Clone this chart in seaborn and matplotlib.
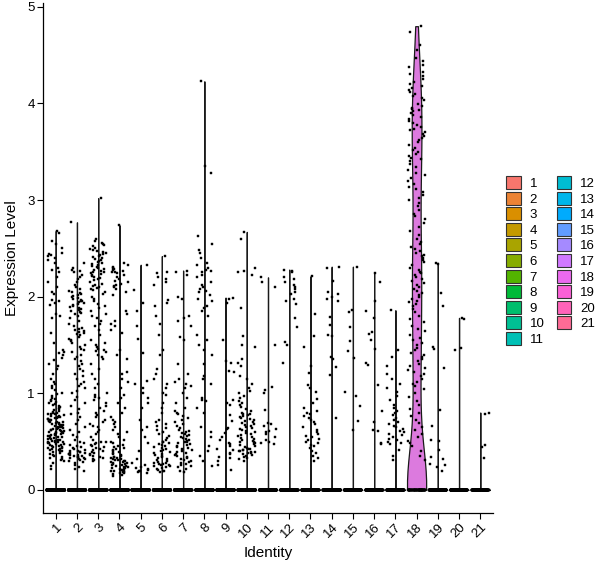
import numpy as np
import pandas as pd
import matplotlib
matplotlib.use("Agg")
import matplotlib.pyplot as plt
import seaborn as sns
from matplotlib.patches import Patch

# ---------------- data ----------------
identities = [str(i) for i in range(1, 22)]

c1 = [2.68, 2.66, 2.58, 2.55, 2.50, 2.45, 2.44, 2.43, 2.42, 2.40, 2.38, 2.35, 2.30, 2.28, 2.25, 2.20, 2.15, 2.10,
      2.05, 2.03, 1.97, 1.95, 1.93, 1.91, 1.82, 1.80, 1.78, 1.62, 1.52, 1.45, 1.43, 1.42, 1.40, 1.36, 1.34, 1.30,
      1.28, 1.25, 1.20, 1.15, 1.12, 1.10, 1.08, 1.05, 1.03, 1.00, 0.99, 0.97, 0.95, 0.94, 0.93, 0.92, 0.91, 0.90,
      0.89, 0.88, 0.87, 0.86, 0.85, 0.84, 0.83, 0.82, 0.81, 0.80, 0.80, 0.79, 0.78, 0.78, 0.77, 0.76, 0.76, 0.75,
      0.75, 0.74, 0.74, 0.73, 0.73, 0.72, 0.72, 0.71, 0.71, 0.70, 0.70, 0.70, 0.69, 0.69, 0.68, 0.68, 0.67, 0.67,
      0.66, 0.66, 0.65, 0.65, 0.65, 0.64, 0.64, 0.63, 0.63, 0.62, 0.62, 0.62, 0.61, 0.61, 0.60, 0.60, 0.60, 0.59,
      0.59, 0.58, 0.58, 0.57, 0.57, 0.56, 0.56, 0.55, 0.55, 0.54, 0.54, 0.53, 0.53, 0.52, 0.52, 0.51, 0.51, 0.50,
      0.50, 0.49, 0.49, 0.48, 0.48, 0.47, 0.47, 0.46, 0.46, 0.45, 0.45, 0.44, 0.44, 0.43, 0.43, 0.42, 0.42, 0.41,
      0.41, 0.40, 0.40, 0.39, 0.38, 0.37, 0.36, 0.35, 0.34, 0.33, 0.32, 0.31, 0.30, 0.28, 0.25, 0.22]
c2 = [2.77, 2.35, 2.30, 2.28, 2.27, 2.25, 2.22, 2.20, 2.18, 2.15, 2.12, 2.10, 2.08, 2.06, 2.05, 2.04, 2.03, 2.02,
      2.01, 2.00, 1.99, 1.98, 1.97, 1.96, 1.95, 1.94, 1.93, 1.92, 1.91, 1.90, 1.89, 1.88, 1.87, 1.86, 1.85, 1.84,
      1.83, 1.82, 1.80, 1.78, 1.75, 1.72, 1.70, 1.68, 1.66, 1.65, 1.64, 1.63, 1.62, 1.61, 1.60, 1.58, 1.56, 1.55,
      1.54, 1.52, 1.50, 1.48, 1.46, 1.45, 1.43, 1.40, 1.38, 1.35, 1.33, 1.30, 1.28, 1.25, 1.23, 1.20, 1.18, 1.15,
      1.12, 1.10, 1.08, 1.05, 1.02, 1.00, 0.96, 0.93, 0.90, 0.87, 0.84, 0.80, 0.78, 0.75, 0.72, 0.68, 0.65, 0.62,
      0.60, 0.57, 0.55, 0.52, 0.50, 0.48, 0.46, 0.45, 0.44, 0.43, 0.42, 0.41, 0.40, 0.40, 0.39, 0.39, 0.38, 0.38,
      0.37, 0.37, 0.36, 0.36, 0.35, 0.35, 0.34, 0.34, 0.33, 0.33, 0.32, 0.32, 0.31, 0.30, 0.29, 0.28, 0.26, 0.24,
      0.22, 0.20]
c3 = [3.02, 2.60, 2.58, 2.56, 2.55, 2.53, 2.52, 2.50, 2.49, 2.48, 2.47, 2.46, 2.45, 2.44, 2.43, 2.42, 2.41, 2.40,
      2.39, 2.38, 2.37, 2.36, 2.35, 2.34, 2.33, 2.32, 2.31, 2.30, 2.29, 2.28, 2.27, 2.26, 2.25, 2.24, 2.23, 2.22,
      2.21, 2.20, 2.19, 2.18, 2.17, 2.15, 2.13, 2.12, 2.11, 2.10, 2.09, 2.08, 2.07, 2.05, 2.03, 2.00, 1.98, 1.95,
      1.92, 1.90, 1.88, 1.85, 1.82, 1.80, 1.78, 1.75, 1.72, 1.70, 1.65, 1.60, 1.55, 1.52, 1.50, 1.48, 1.46, 1.45,
      1.44, 1.43, 1.40, 1.38, 1.35, 1.30, 1.25, 1.20, 1.15, 1.10, 1.05, 1.00, 0.98, 0.96, 0.95, 0.93, 0.90, 0.87,
      0.85, 0.82, 0.80, 0.77, 0.75, 0.72, 0.70, 0.68, 0.66, 0.65, 0.62, 0.60, 0.58, 0.55, 0.52, 0.50, 0.49, 0.48,
      0.47, 0.46, 0.45, 0.44, 0.43, 0.42, 0.41, 0.40, 0.39, 0.38, 0.37, 0.36, 0.35, 0.34, 0.33, 0.32, 0.31, 0.30]
c4 = [2.74, 2.35, 2.33, 2.31, 2.30, 2.29, 2.28, 2.27, 2.26, 2.25, 2.24, 2.22, 2.20, 2.18, 2.16, 2.15, 2.13, 2.12,
      2.11, 2.10, 2.08, 2.05, 2.02, 1.85, 1.82, 1.75, 1.72, 1.70, 1.65, 1.62, 1.45, 1.40, 1.35, 1.22, 1.20, 1.15,
      1.12, 1.05, 0.98, 0.95, 0.90, 0.85, 0.80, 0.75, 0.72, 0.70, 0.68, 0.65, 0.62, 0.60, 0.58, 0.55, 0.52, 0.50,
      0.48, 0.46, 0.45, 0.44, 0.43, 0.42, 0.41, 0.40, 0.39, 0.38, 0.37, 0.36, 0.35, 0.34, 0.34, 0.33, 0.33, 0.32,
      0.32, 0.31, 0.31, 0.30, 0.30, 0.29, 0.29, 0.28, 0.28, 0.27, 0.27, 0.26, 0.26, 0.25, 0.25, 0.24, 0.24, 0.23,
      0.23, 0.22, 0.22, 0.21, 0.21, 0.20, 0.20, 0.19, 0.19, 0.18, 0.18, 0.17, 0.17, 0.16, 0.15, 0.14]
c5 = [2.33, 2.07, 1.93, 1.85, 1.70, 1.56, 1.42, 1.13, 1.10, 1.05, 1.00, 0.95, 0.90, 0.85, 0.72, 0.65, 0.62, 0.55,
      0.48, 0.40, 0.32, 0.28, 0.26, 0.24, 0.23, 0.22, 0.21, 0.20, 0.19, 0.18, 0.17]
c6 = [2.42, 2.26, 2.24, 2.20, 2.18, 2.15, 2.12, 1.97, 1.93, 1.90, 1.80, 1.72, 1.60, 1.45, 1.40, 1.25, 1.20, 1.15,
      1.10, 1.05, 1.00, 0.98, 0.90, 0.85, 0.80, 0.72, 0.70, 0.68, 0.66, 0.64, 0.62, 0.60, 0.58, 0.56, 0.54, 0.52,
      0.50, 0.49, 0.48, 0.47, 0.46, 0.45, 0.44, 0.43, 0.42, 0.41, 0.40, 0.39, 0.38, 0.37, 0.36, 0.35, 0.34, 0.33,
      0.32, 0.31, 0.30, 0.29, 0.28, 0.28, 0.27, 0.27, 0.26, 0.26, 0.25, 0.25, 0.24, 0.23, 0.22, 0.21, 0.20, 0.19,
      0.18]
c7 = [2.27, 2.25, 2.22, 2.00, 1.98, 1.80, 1.78, 1.75, 1.70, 1.58, 1.55, 1.30, 1.20, 1.15, 1.12, 1.10, 1.08, 1.05,
      1.00, 0.95, 0.90, 0.85, 0.82, 0.80, 0.78, 0.76, 0.74, 0.72, 0.70, 0.68, 0.66, 0.64, 0.62, 0.61, 0.60, 0.59,
      0.58, 0.57, 0.56, 0.55, 0.54, 0.53, 0.52, 0.51, 0.50, 0.49, 0.48, 0.47, 0.46, 0.45, 0.44, 0.43, 0.42, 0.41,
      0.40, 0.39, 0.38, 0.37, 0.36, 0.35, 0.34, 0.33, 0.32, 0.31, 0.30, 0.29, 0.28, 0.27, 0.26, 0.25, 0.24, 0.22,
      0.20, 0.18]
c8 = [4.23, 3.35, 3.28, 2.63, 2.55, 2.48, 2.45, 2.40, 2.35, 2.33, 2.30, 2.28, 2.27, 2.25, 2.22, 2.20, 2.15, 2.12,
      2.10, 2.08, 2.06, 2.05, 2.02, 1.98, 1.95, 1.90, 1.88, 1.85, 1.80, 1.60, 1.55, 1.50, 1.45, 1.40, 1.30, 1.18,
      1.15, 1.10, 0.95, 0.93, 0.92, 0.85, 0.80, 0.65, 0.60, 0.55, 0.45, 0.40, 0.35, 0.30, 0.25]
c9 = [1.99, 1.98, 1.93, 1.55, 1.33, 1.31, 1.23, 1.22, 0.93, 0.90, 0.88, 0.77, 0.71, 0.64, 0.63, 0.59, 0.55, 0.52,
      0.48, 0.47, 0.45, 0.42, 0.41, 0.38, 0.37, 0.34, 0.33, 0.30, 0.26, 0.21]
c10 = [2.67, 2.60, 2.30, 2.27, 2.25, 2.22, 1.88, 1.59, 1.50, 1.48, 1.35, 1.31, 1.28, 1.18, 1.15, 1.10, 1.05, 1.02,
       1.00, 0.97, 0.95, 0.92, 0.90, 0.88, 0.86, 0.84, 0.82, 0.80, 0.79, 0.78, 0.77, 0.76, 0.75, 0.74, 0.73, 0.72,
       0.71, 0.70, 0.69, 0.68, 0.67, 0.66, 0.65, 0.64, 0.63, 0.62, 0.61, 0.60, 0.59, 0.58, 0.57, 0.56, 0.55, 0.54,
       0.53, 0.52, 0.51, 0.50, 0.49, 0.48, 0.47, 0.46, 0.45, 0.44, 0.43, 0.42, 0.42, 0.41, 0.41, 0.40, 0.40, 0.39,
       0.39, 0.38, 0.38, 0.37, 0.36, 0.35, 0.34, 0.33, 0.32, 0.30]
c11 = [2.20, 2.15, 2.10, 1.50, 1.06, 1.03, 1.00, 0.83, 0.69, 0.68, 0.66, 0.63, 0.61, 0.60, 0.58, 0.55, 0.52, 0.50,
       0.48, 0.47]
c12 = [2.28, 2.27, 2.25, 2.20, 2.18, 2.15, 2.12, 2.10, 2.08, 2.05, 2.03, 1.98, 1.95, 1.92, 1.78, 1.69, 1.53, 1.50,
       1.31]
c13 = [2.21, 1.82, 1.59, 1.48, 1.28, 1.21, 1.09, 1.05, 1.01, 0.94, 0.90, 0.85, 0.82, 0.80, 0.78, 0.76, 0.74, 0.72,
       0.70, 0.68, 0.65, 0.62, 0.60, 0.58, 0.56, 0.55, 0.53, 0.52, 0.50, 0.48, 0.46, 0.45, 0.43, 0.40, 0.38, 0.35,
       0.33, 0.30]
c14 = [2.31, 2.30, 2.16, 2.05, 2.03, 2.00, 1.98, 1.96, 1.79, 1.71, 1.60, 1.59, 1.38, 1.35, 1.27, 1.19, 0.74]
c15 = [2.31, 1.86, 1.84, 1.69, 1.54, 1.44, 1.36, 1.01, 0.97, 0.87, 0.71, 0.62]
c16 = [2.24, 2.15, 1.95, 1.85, 1.78, 1.63, 1.61, 1.55, 1.46, 1.31, 1.29, 1.09, 0.82, 0.70, 0.62, 0.61, 0.48, 0.47]
c17 = [1.86, 1.45, 1.38, 1.28, 1.20, 1.15, 1.10, 1.05, 1.01, 0.97, 0.93, 0.88, 0.85, 0.82, 0.80, 0.77, 0.74, 0.72,
       0.70, 0.68, 0.66, 0.65, 0.63, 0.61, 0.60, 0.58, 0.57, 0.55, 0.53, 0.52, 0.50, 0.48, 0.47, 0.41, 0.35, 0.31]
c18 = [4.80, 4.74, 4.61, 4.55, 4.47, 4.44, 4.40, 4.38, 4.33, 4.31, 4.28, 4.25, 4.22, 4.20, 4.18, 4.16, 4.14,
       4.12, 4.10, 4.08, 4.06, 4.04, 3.99, 3.97, 3.95, 3.94, 3.93, 3.92, 3.90, 3.88, 3.86, 3.84, 3.82, 3.80, 3.78,
       3.76, 3.74, 3.72, 3.70, 3.68, 3.66, 3.64, 3.62, 3.60, 3.57, 3.54, 3.52, 3.50, 3.48, 3.46, 3.44, 3.42,
       3.40, 3.37, 3.34, 3.31, 3.28, 3.26, 3.23, 3.20, 3.17, 3.14, 3.11, 3.08, 3.05, 3.02, 3.00, 2.97, 2.94, 2.90,
       2.86, 2.83, 2.80, 2.76, 2.72, 2.68, 2.64, 2.60, 2.57, 2.54, 2.51, 2.49, 2.47, 2.45, 2.43, 2.42, 2.40, 2.38,
       2.36, 2.33, 2.30, 2.28, 2.26, 2.24, 2.22, 2.20, 2.18, 2.16, 2.14, 2.12, 2.10, 2.08, 2.06, 2.04, 2.02, 2.00,
       1.98, 1.96, 1.94, 1.92, 1.90, 1.87, 1.84, 1.80, 1.77, 1.74, 1.70, 1.67, 1.64, 1.60, 1.57, 1.55, 1.52, 1.50,
       1.47, 1.45, 1.42, 1.40, 1.38, 1.35, 1.33, 1.30, 1.28, 1.26, 1.24, 1.22, 1.20, 1.18, 1.15, 1.12, 1.10, 1.07,
       1.04, 1.00, 0.96, 0.92, 0.88, 0.84, 0.80, 0.76, 0.72, 0.69, 0.65, 0.62, 0.58, 0.55, 0.51, 0.48, 0.45, 0.40,
       0.35, 0.31]
c19 = [2.35, 2.34, 2.04, 1.90, 1.48, 1.46, 1.26, 0.83, 0.66, 0.52, 0.51, 0.41, 0.34, 0.32, 0.27, 0.26, 0.24, 0.19]
c20 = [1.78, 1.77, 1.47, 1.45]
c21 = [0.80, 0.79, 0.46, 0.44, 0.33]

# number of cells with zero expression in each identity
zero_counts = [900, 800, 700, 800, 700, 650, 650, 600, 500, 600, 400, 400, 400, 350, 300, 300, 300,
               80, 300, 200, 150]

nonzero = [c1, c2, c3, c4, c5, c6, c7, c8, c9, c10, c11, c12, c13, c14, c15, c16, c17, c18, c19, c20, c21]

# ---------------- build table ----------------
rows_id, rows_val = [], []
for ident, vals, nz in zip(identities, nonzero, zero_counts):
    rows_id += [ident] * (len(vals) + nz)
    rows_val += list(vals) + [0.0] * nz
df = pd.DataFrame({"Identity": pd.Categorical(rows_id, categories=identities), "Expression": rows_val})


# ggplot2 default hue palette (HCL, c=100, l=65)
def hcl_hex(h, c=100.0, l=65.0):
    hr = np.deg2rad(h)
    u, v = c * np.cos(hr), c * np.sin(hr)
    Xn, Yn, Zn = 95.047, 100.0, 108.883
    Y = Yn * ((l + 16) / 116) ** 3
    un = 4 * Xn / (Xn + 15 * Yn + 3 * Zn)
    vn = 9 * Yn / (Xn + 15 * Yn + 3 * Zn)
    up = u / (13 * l) + un
    vp = v / (13 * l) + vn
    X = Y * 9 * up / (4 * vp)
    Z = Y * (12 - 3 * up - 20 * vp) / (4 * vp)
    X, Y, Z = X / 100, Y / 100, Z / 100
    rgb = np.array([3.2404542 * X - 1.5371385 * Y - 0.4985314 * Z,
                    -0.9692660 * X + 1.8760108 * Y + 0.0415560 * Z,
                    0.0556434 * X - 0.2040259 * Y + 1.0572252 * Z])
    rgb = np.where(rgb <= 0.0031308, 12.92 * rgb, 1.055 * np.abs(rgb) ** (1 / 2.4) - 0.055)
    rgb = np.clip(rgb, 0, 1)
    return "#%02x%02x%02x" % tuple(int(round(x * 255)) for x in rgb)


hues = np.linspace(15, 375, len(identities) + 1)[:-1]
colors = [hcl_hex(h) for h in hues]
palette = dict(zip(identities, colors))

# ---------------- plot ----------------
FONT = "Liberation Sans"
plt.rcParams["font.family"] = [FONT, "DejaVu Sans"]

fig = plt.figure(figsize=(6.0, 5.68), dpi=100)
ax = fig.add_axes([43 / 600, 1 - 513 / 568, 450 / 600, 510 / 568])

others = df[df["Identity"] != "18"]
hi = df[df["Identity"] == "18"]

sns.violinplot(data=others, x="Identity", y="Expression", hue="Identity", order=identities,
               hue_order=identities, palette=palette, density_norm="width", cut=0, inner=None,
               bw_method=0.008, gridsize=1500, width=0.9, linewidth=0.9, linecolor="#1a1a1a",
               legend=False, ax=ax, dodge=False)
sns.violinplot(data=hi, x="Identity", y="Expression", hue="Identity", order=identities,
               hue_order=identities, palette=palette, density_norm="width", cut=0, inner=None,
               bw_method=0.26, gridsize=50, width=0.9, linewidth=0.9, linecolor="#1a1a1a",
               legend=False, ax=ax, dodge=False)

np.random.seed(3)
sns.stripplot(data=df, x="Identity", y="Expression", order=identities, color="black",
              jitter=0.4, size=2.0, marker="s", linewidth=0.3, edgecolor="black", ax=ax)

ax.set_xlim(-0.6, len(identities) - 0.4)
ax.set_ylim(-0.24, 5.04)
ax.set_yticks([0, 1, 2, 3, 4, 5])
ax.set_yticklabels(["0", "1", "2", "3", "4", "5"])
ax.set_xticks(range(len(identities)))
ax.set_xticklabels(identities, rotation=45, ha="right", rotation_mode="anchor")

for s in ["top", "right"]:
    ax.spines[s].set_visible(False)
for s in ["left", "bottom"]:
    ax.spines[s].set_linewidth(0.9)
    ax.spines[s].set_color("black")
ax.tick_params(axis="both", length=4, width=0.8, color="black", labelsize=9.5, labelcolor="black", pad=2)
ax.set_xlabel("Identity", fontsize=11, labelpad=4)
ax.set_ylabel("Expression Level", fontsize=11, labelpad=6)
ax.set_facecolor("white")
fig.patch.set_facecolor("white")

handles = [Patch(facecolor=c, edgecolor="#333333", linewidth=0.8) for c in colors]
fig.legend(handles, identities, ncol=2, loc="center left", bbox_to_anchor=(506 / 600, 1 - 261 / 568),
           frameon=False, fontsize=9.5, handlelength=1.1, handleheight=1.15, labelspacing=0.12,
           handletextpad=0.7, columnspacing=0.9, borderpad=0, borderaxespad=0)

fig.savefig("out.png", dpi=100)
